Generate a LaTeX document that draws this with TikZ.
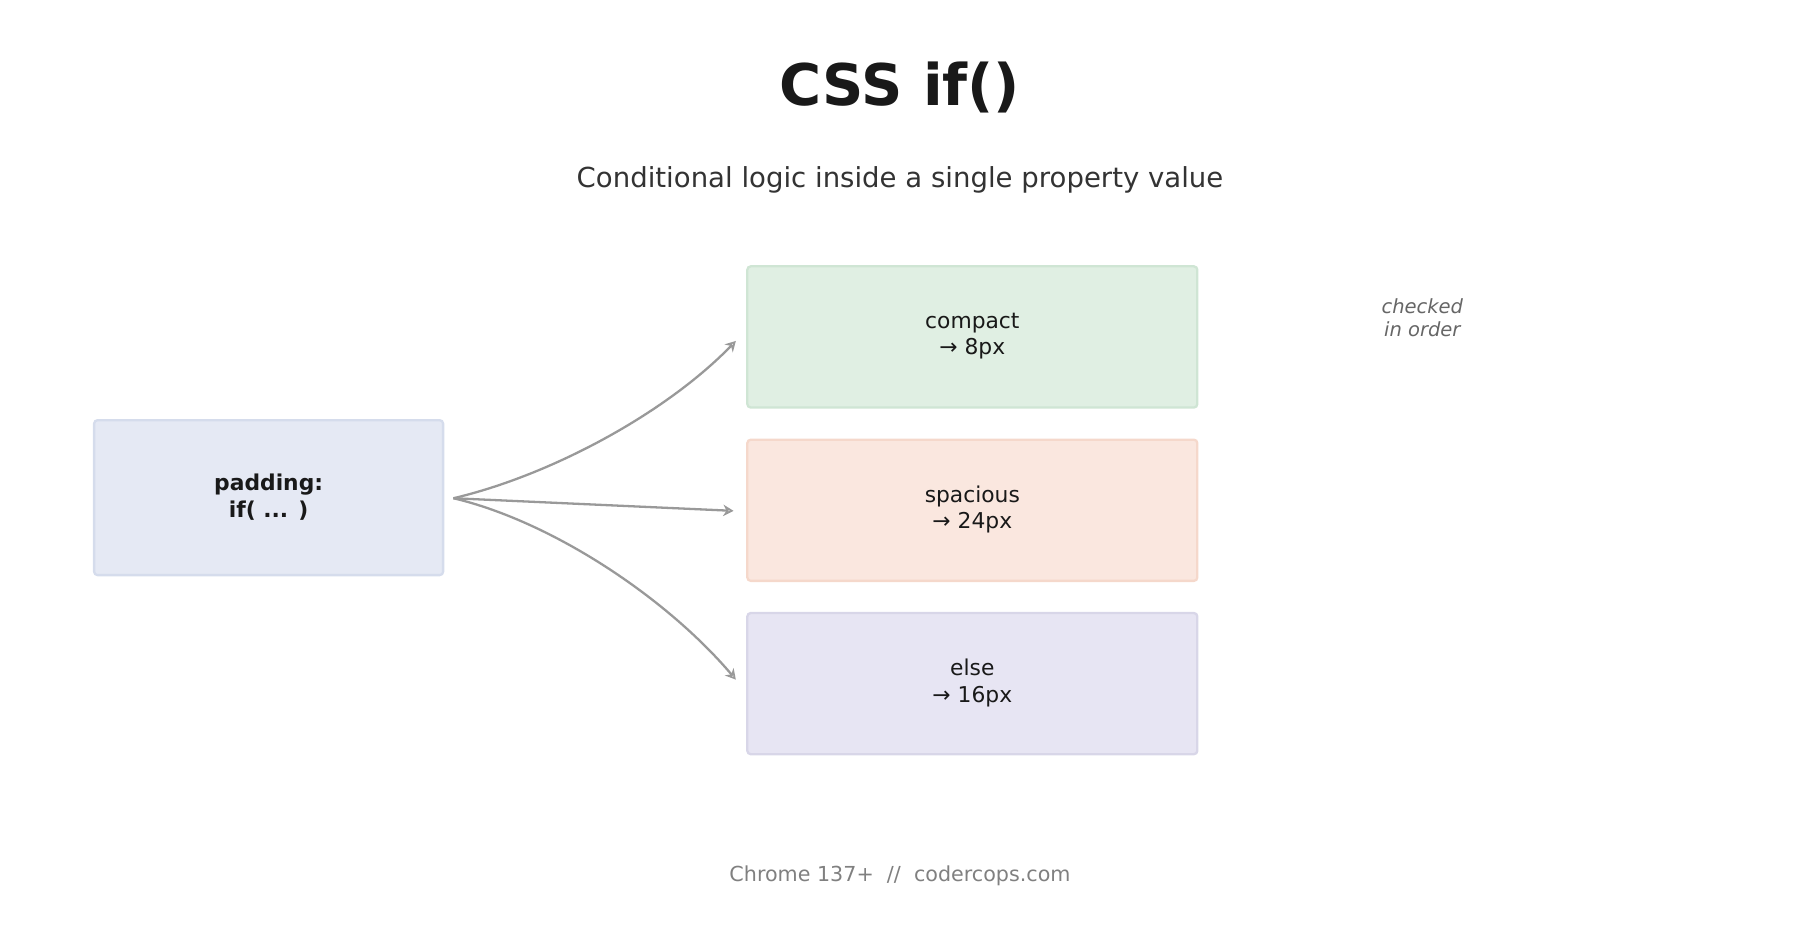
\documentclass[tikz,border=0pt]{standalone}
\usepackage{fontspec}
\setmainfont{DejaVu Sans}
\usetikzlibrary{arrows.meta}
\definecolor{gA}{HTML}{999999}
\definecolor{bd1}{HTML}{D5DCEC}\definecolor{fl1}{HTML}{E5E9F4}
\definecolor{bd2}{HTML}{CFE5D4}\definecolor{fl2}{HTML}{E0EFE3}
\definecolor{bd3}{HTML}{F5D8CB}\definecolor{fl3}{HTML}{FAE7DF}
\definecolor{bd4}{HTML}{D8D6E8}\definecolor{fl4}{HTML}{E7E5F3}
\begin{document}
\begin{tikzpicture}[x=1pt,y=-1pt,
 box/.style={draw=#1,line width=2pt,rounded corners=3pt},
 lbl/.style={align=center,font=\fontsize{19}{23}\selectfont,text=black!90},
 arr/.style={draw=gA,line width=2pt,-{Stealth[open,length=9pt,width=10pt]}}]
\useasboundingbox (0,0) rectangle (1568,823);
\node[font=\fontsize{50}{56}\bfseries\selectfont,text=black!90] (title) at (784,76) {CSS if()};
\node[font=\fontsize{24}{28}\selectfont,text=black!80] (sub) at (784,157) {Conditional logic inside a single property value};
\filldraw[box=bd1,fill=fl1] (82,366) rectangle (386,501);
\node[lbl,font=\fontsize{19}{23}\bfseries\selectfont] (src) at (234,433) {padding:\\if( ... )};
\filldraw[box=bd2,fill=fl2] (651,232) rectangle (1043,355);
\node[lbl] (a) at (847,293) {compact\\→ 8px};
\filldraw[box=bd3,fill=fl3] (651,383) rectangle (1043,506);
\node[lbl] (b) at (847,444) {spacious\\→ 24px};
\filldraw[box=bd4,fill=fl4] (651,534) rectangle (1043,657);
\node[lbl] (c) at (847,595) {else\\→ 16px};
\coordinate (s) at (395,434);
\coordinate (ea) at (641,297);
\coordinate (eb) at (639,445);
\coordinate (ec) at (641,592);
\draw[arr] (s) .. controls (480,414) and (580,360) .. (ea);
\draw[arr] (s) -- (eb);
\draw[arr] (s) .. controls (480,454) and (580,520) .. (ec);
\node[align=center,font=\fontsize{17}{20}\itshape\selectfont,text=black!60] (note) at (1239,277) {checked\\in order};
\node[font=\fontsize{18}{22}\selectfont,text=black!50] (foot) at (784,763) {Chrome 137+\ \ //\ \ codercops.com};
\end{tikzpicture}
\end{document}
